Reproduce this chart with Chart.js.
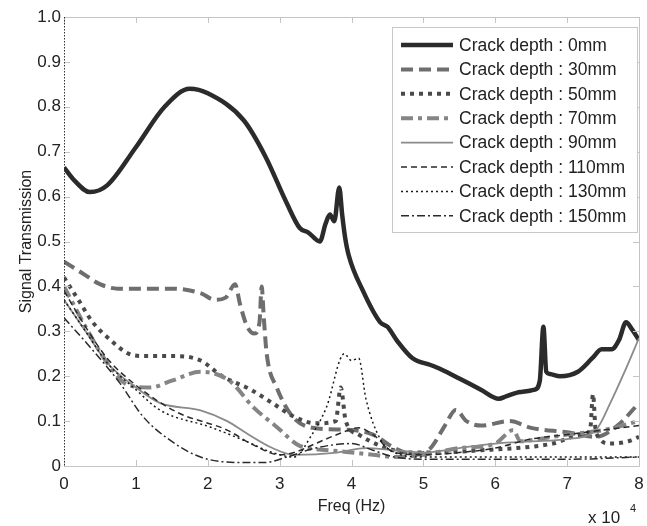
<!DOCTYPE html>
<html>
<head>
<meta charset="utf-8">
<script src="https://cdn.jsdelivr.net/npm/chart.js@4.4.0/dist/chart.umd.min.js"></script>
<style>
  html, body { margin: 0; padding: 0; background: #fff; }
  #wrap { width: 647px; height: 526px; }
</style>
</head>
<body>
<div id="wrap"><canvas id="myChart" width="647" height="526"></canvas></div>
<script>
// frequency in units of 1e4 Hz
const labels = ['Crack depth : 0mm', 'Crack depth : 30mm', 'Crack depth : 50mm', 'Crack depth : 70mm',
  'Crack depth : 90mm', 'Crack depth : 110mm', 'Crack depth : 130mm', 'Crack depth : 150mm'];
const xTicks = [0, 1, 2, 3, 4, 5, 6, 7, 8];
const yTicks = [0, 0.1, 0.2, 0.3, 0.4, 0.5, 0.6, 0.7, 0.8, 0.9, 1.0];

const f0 = [0, 0.15, 0.36, 0.6, 1.0, 1.4, 1.75, 2.0, 2.5, 2.8, 3.1, 3.28, 3.4, 3.56, 3.64, 3.7, 3.76, 3.83, 3.87, 3.91, 3.96, 4.16, 4.4, 4.5, 4.63, 4.85, 5.1, 5.25, 5.5, 5.8, 6.05, 6.15, 6.35, 6.55, 6.62, 6.67, 6.71, 6.76, 6.9, 7.15, 7.35, 7.48, 7.62, 7.72, 7.82, 7.9, 8.0];
const d0 = [0.665, 0.635, 0.61, 0.625, 0.71, 0.80, 0.84, 0.83, 0.77, 0.69, 0.585, 0.53, 0.52, 0.50, 0.54, 0.56, 0.545, 0.62, 0.56, 0.51, 0.47, 0.39, 0.32, 0.31, 0.28, 0.24, 0.225, 0.215, 0.195, 0.17, 0.15, 0.155, 0.165, 0.17, 0.19, 0.31, 0.21, 0.205, 0.2, 0.21, 0.24, 0.26, 0.26, 0.28, 0.32, 0.305, 0.28];

const f30 = [0, 0.25, 0.5, 0.75, 1.0, 1.5, 1.9, 2.1, 2.25, 2.38, 2.45, 2.55, 2.65, 2.72, 2.75, 2.78, 2.82, 2.96, 3.18, 3.46, 4.0, 4.3, 4.6, 4.9, 5.1, 5.3, 5.45, 5.6, 5.8, 6.2, 6.5, 7.0, 7.4, 7.7, 8.0];
const d30 = [0.455, 0.43, 0.405, 0.395, 0.395, 0.395, 0.385, 0.37, 0.375, 0.405, 0.36, 0.31, 0.295, 0.32, 0.40, 0.33, 0.25, 0.175, 0.11, 0.085, 0.08, 0.07, 0.04, 0.025, 0.04, 0.09, 0.125, 0.10, 0.09, 0.10, 0.085, 0.075, 0.065, 0.09, 0.14];

const f50 = [0, 0.2, 0.4, 0.65, 0.9, 1.1, 1.5, 1.9, 2.2, 2.6, 2.9, 3.2, 3.5, 3.78, 3.85, 3.92, 4.1, 4.4, 4.8, 5.2, 5.8, 6.3, 6.8, 7.2, 7.32, 7.36, 7.4, 7.6, 7.85, 8.0];
const d50 = [0.42, 0.37, 0.32, 0.28, 0.25, 0.245, 0.245, 0.235, 0.20, 0.17, 0.14, 0.11, 0.095, 0.10, 0.175, 0.10, 0.07, 0.045, 0.03, 0.03, 0.035, 0.04, 0.05, 0.07, 0.08, 0.16, 0.075, 0.05, 0.055, 0.065];

const f70 = [0, 0.3, 0.6, 0.9, 1.2, 1.5, 1.9, 2.3, 2.64, 2.96, 3.28, 3.7, 4.0, 4.3, 4.6, 5.0, 5.5, 6.0, 6.25, 6.35, 6.6, 7.0, 7.5, 8.0];
const d70 = [0.40, 0.31, 0.23, 0.18, 0.175, 0.19, 0.21, 0.19, 0.13, 0.087, 0.045, 0.035, 0.03, 0.025, 0.02, 0.025, 0.04, 0.05, 0.08, 0.055, 0.06, 0.07, 0.08, 0.10];

const f90 = [0, 0.3, 0.6, 1.0, 1.34, 1.9, 2.27, 2.54, 2.9, 3.2, 3.8, 4.2, 4.6, 5.0, 5.5, 6.0, 6.5, 7.0, 7.4, 7.6, 7.8, 8.0];
const d90 = [0.37, 0.30, 0.23, 0.175, 0.14, 0.124, 0.10, 0.073, 0.04, 0.025, 0.03, 0.04, 0.035, 0.03, 0.04, 0.05, 0.055, 0.06, 0.08, 0.14, 0.21, 0.285];

const f110 = [0, 0.3, 0.6, 1.0, 1.57, 2.27, 2.6, 3.0, 3.2, 3.5, 3.8, 4.1, 4.3, 4.6, 5.0, 5.5, 6.0, 6.5, 7.0, 7.5, 8.0];
const d110 = [0.39, 0.31, 0.24, 0.18, 0.12, 0.08, 0.05, 0.025, 0.03, 0.05, 0.07, 0.085, 0.07, 0.03, 0.025, 0.03, 0.04, 0.06, 0.07, 0.08, 0.09];

const f130 = [0, 0.3, 0.6, 1.0, 1.34, 2.03, 2.49, 2.9, 3.2, 3.45, 3.65, 3.9, 4.0, 4.1, 4.2, 4.4, 4.6, 5.0, 6.0, 7.0, 8.0];
const d130 = [0.37, 0.30, 0.23, 0.17, 0.124, 0.087, 0.058, 0.03, 0.02, 0.07, 0.13, 0.25, 0.235, 0.24, 0.15, 0.06, 0.03, 0.02, 0.02, 0.02, 0.02];

const f150 = [0, 0.4, 0.78, 1.1, 1.47, 1.9, 2.4, 2.8, 3.1, 3.5, 4.0, 4.3, 4.6, 5.0, 6.0, 7.0, 8.0];
const d150 = [0.33, 0.258, 0.184, 0.11, 0.058, 0.02, 0.008, 0.008, 0.02, 0.04, 0.05, 0.035, 0.02, 0.015, 0.015, 0.015, 0.02];

const FONT = '"Liberation Sans", Arial, sans-serif';

function pts(xs, ys) {
  return xs.map((x, i) => ({ x: x, y: ys[i] }));
}

const styles = [
  { color: '#2b2b2b', width: 4.5, dash: [] },
  { color: '#6e6e6e', width: 4, dash: [12, 6] },
  { color: '#4a4a4a', width: 4, dash: [4, 5] },
  { color: '#858585', width: 4, dash: [12, 5, 4, 5] },
  { color: '#8a8a8a', width: 1.8, dash: [] },
  { color: '#2a2a2a', width: 1.5, dash: [6, 4] },
  { color: '#1a1a1a', width: 1.5, dash: [2, 3] },
  { color: '#2a2a2a', width: 1.5, dash: [8, 3, 2, 3] }
];
const series = [pts(f0, d0), pts(f30, d30), pts(f50, d50), pts(f70, d70),
  pts(f90, d90), pts(f110, d110), pts(f130, d130), pts(f150, d150)];

// draw order: thin ones underneath, black curve on top
const order = [7, 6, 5, 4, 3, 2, 1, 0];

const datasets = series.map((data, i) => ({
  label: labels[i],
  data: data,
  borderColor: styles[i].color,
  borderWidth: styles[i].width,
  borderDash: styles[i].dash,
  pointRadius: 0,
  fill: false,
  cubicInterpolationMode: 'monotone',
  order: order[i]
}));

const frame = {
  id: 'frame',
  afterDatasetsDraw(chart) {
    const { ctx, chartArea: a, scales } = chart;
    ctx.save();
    ctx.strokeStyle = '#c4c4c4';
    ctx.lineWidth = 1;
    ctx.beginPath();
    ctx.moveTo(a.left, a.top + 0.5); ctx.lineTo(a.right + 0.5, a.top + 0.5);
    ctx.lineTo(a.right + 0.5, a.bottom + 0.5); ctx.lineTo(a.left, a.bottom + 0.5);
    ctx.stroke();
    // inner tick marks
    ctx.beginPath();
    xTicks.forEach(v => {
      const px = Math.round(scales.x.getPixelForValue(v)) + 0.5;
      ctx.moveTo(px, a.bottom); ctx.lineTo(px, a.bottom - 6);
      ctx.moveTo(px, a.top); ctx.lineTo(px, a.top + 6);
    });
    yTicks.forEach(v => {
      const py = Math.round(scales.y.getPixelForValue(v)) + 0.5;
      ctx.moveTo(a.left, py); ctx.lineTo(a.left + 6, py);
      ctx.moveTo(a.right, py); ctx.lineTo(a.right - 6, py);
    });
    ctx.stroke();
    // left axis looks dotted in the original
    ctx.strokeStyle = '#333';
    ctx.setLineDash([1.5, 1.5]);
    ctx.beginPath();
    ctx.moveTo(a.left + 0.5, a.top); ctx.lineTo(a.left + 0.5, a.bottom);
    ctx.stroke();
    ctx.setLineDash([]);

    // x 10^4 multiplier
    ctx.fillStyle = '#222';
    ctx.font = '17px ' + FONT;
    ctx.textBaseline = 'alphabetic';
    ctx.textAlign = 'left';
    ctx.fillText('x 10', 588, 523);
    ctx.font = '11px ' + FONT;
    ctx.fillText('4', 630, 512);

    // legend
    const bx = 392, by = 27, bw = 245, bh = 205;
    ctx.fillStyle = '#fff';
    ctx.fillRect(bx, by, bw, bh);
    ctx.strokeStyle = '#c8c8c8';
    ctx.lineWidth = 1;
    ctx.strokeRect(bx + 0.5, by + 0.5, bw, bh);
    ctx.font = '17.5px ' + FONT;
    ctx.textBaseline = 'middle';
    chart.data.datasets.forEach((ds, i) => {
      const y = 45 + i * 24.4;
      ctx.strokeStyle = ds.borderColor;
      ctx.lineWidth = ds.borderWidth;
      ctx.setLineDash(ds.borderDash);
      ctx.beginPath();
      ctx.moveTo(401, y); ctx.lineTo(453, y);
      ctx.stroke();
      ctx.setLineDash([]);
      ctx.fillStyle = '#222';
      ctx.fillText(ds.label, 459, y + 1);
    });
    ctx.restore();
  }
};

const ctx = document.getElementById('myChart').getContext('2d');
const myChart = new Chart(ctx, {
  type: 'line',
  data: { datasets: datasets },
  options: {
    responsive: false,
    animation: false,
    layout: { padding: { top: 17, right: 8, left: 0, bottom: 0 } },
    plugins: { legend: { display: false }, tooltip: { enabled: false } },
    scales: {
      x: {
        type: 'linear',
        min: 0, max: 8,
        afterBuildTicks: (s) => { s.ticks = xTicks.map(v => ({ value: v })); },
        afterFit: (s) => { s.height = 60; s.paddingLeft = 0; s.paddingRight = 0; },
        grid: { display: false, drawTicks: false },
        border: { display: false },
        ticks: { color: '#222', font: { family: FONT, size: 17 }, padding: 8, maxRotation: 0,
          callback: (v) => String(v) },
        title: { display: true, text: 'Freq (Hz)', color: '#222', font: { family: FONT, size: 16 }, padding: { top: 4, bottom: 10 } }
      },
      y: {
        min: 0, max: 1,
        afterBuildTicks: (s) => { s.ticks = yTicks.map(v => ({ value: v })); },
        afterFit: (s) => { s.width = 64; },
        grid: { display: false, drawTicks: false },
        border: { display: false },
        ticks: { color: '#222', font: { family: FONT, size: 17 }, padding: 3,
          callback: (v) => v === 0 ? '0' : v.toFixed(1) },
        title: { display: true, text: 'Signal Transmission', color: '#222', font: { family: FONT, size: 16 }, padding: { top: 17, bottom: 4 } }
      }
    }
  },
  plugins: [frame]
});
</script>
</body>
</html>
